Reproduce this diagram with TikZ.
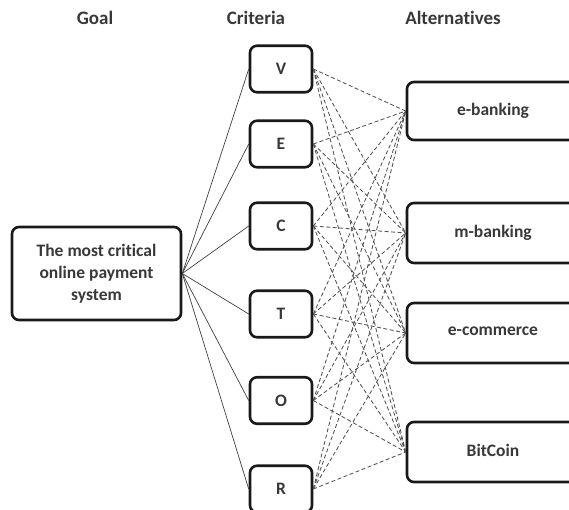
\documentclass[tikz,border=0pt]{standalone}
\usepackage{fontspec}
\setmainfont{Carlito}[Ligatures=NoCommon]
\begin{document}
\begin{tikzpicture}[x=1pt,y=-1pt,
  box/.style={draw=black!90,line width=2.6pt,rounded corners=7pt,inner sep=0pt,font=\bfseries\fontsize{17.5}{22}\selectfont,text=black!78},
  head/.style={font=\bfseries\fontsize{19}{22}\selectfont,text=black!78},
  solidlink/.style={draw=black!75,line width=0.7pt},
  dashlink/.style={draw=black!68,line width=0.85pt,dash pattern=on 4pt off 2.5pt}]
\useasboundingbox (0,0) rectangle (569,509);
\node[head] (hg) at (95,18) {Goal};
\node[head] (hc) at (256,18) {Criteria};
\node[head] (ha) at (453,18) {Alternatives};
\node[box,minimum width=169pt,minimum height=93pt,align=center] (goal) at (96.5,273.5) {The most critical\\online payment\\system};
\foreach \n/\t/\y in {v/V/69, e/E/144, c/C/226, t/T/314, o/O/400.5, r/R/489}
  \node[box,minimum width=62pt,minimum height=46.5pt] (\n) at (281,\y) {\t};
\node[box,minimum width=172pt,minimum height=58pt] (a1) at (493,111) {\raisebox{3pt}{e-banking}};
\node[box,minimum width=172pt,minimum height=60pt] (a2) at (493,233) {\raisebox{3pt}{m-banking}};
\node[box,minimum width=172pt,minimum height=60pt] (a3) at (493,333) {\raisebox{3pt}{e-commerce}};
\node[box,minimum width=172pt,minimum height=60pt] (a4) at (493,452) {\raisebox{3pt}{BitCoin}};
\foreach \n in {v,e,c,t,o,r}
  \draw[solidlink] (goal.east) -- (\n.west);
\foreach \n in {v,e,c,t,o,r}
  \foreach \a in {a1,a2,a3,a4}
    \draw[dashlink] (\n.east) -- (\a.west);
\end{tikzpicture}
\end{document}
